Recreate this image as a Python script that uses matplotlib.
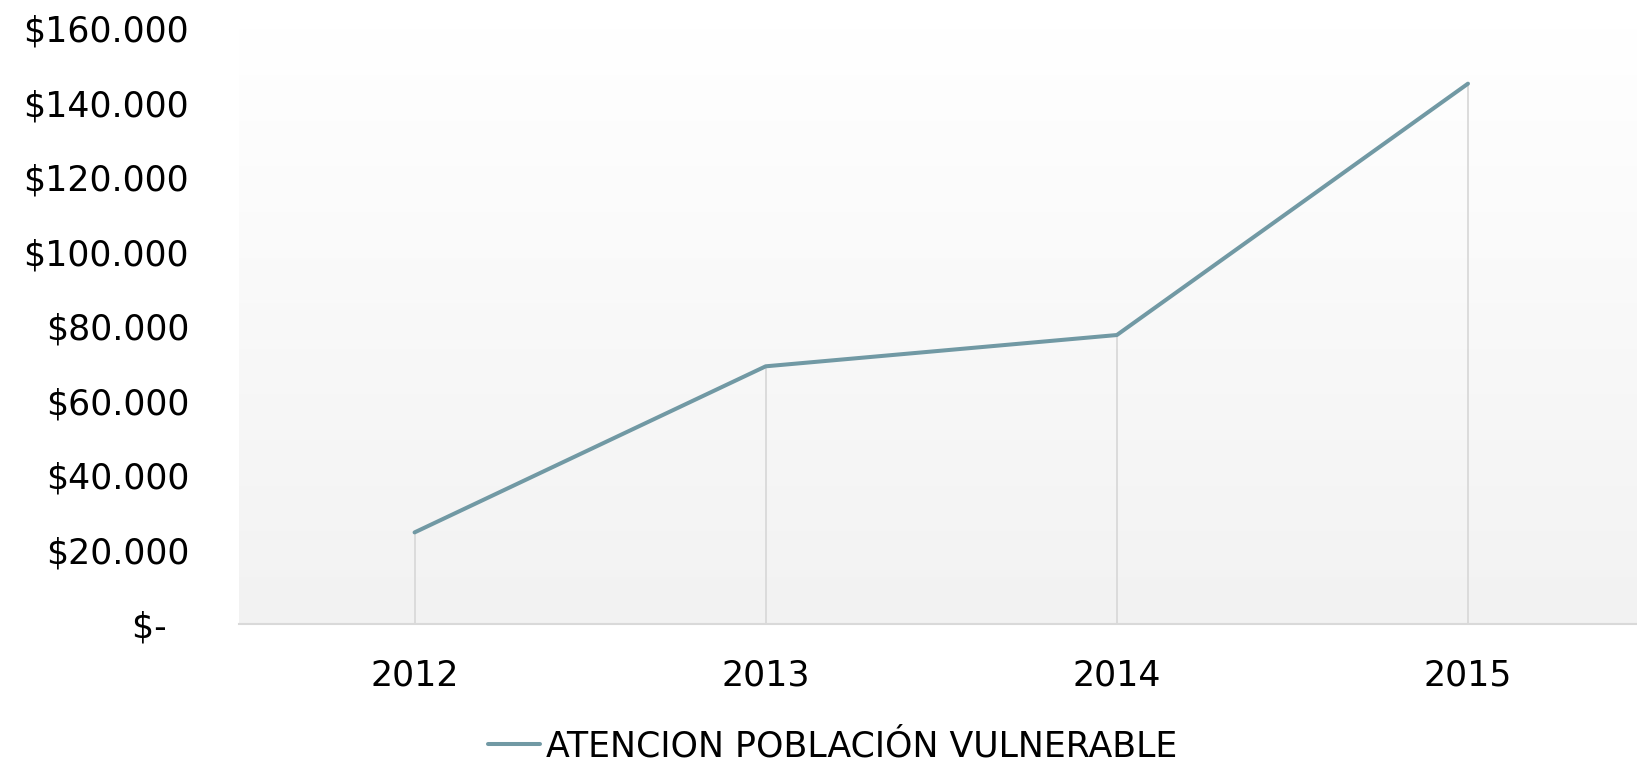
import numpy as np
import matplotlib
matplotlib.use('Agg')
import matplotlib.pyplot as plt
from matplotlib.ticker import FuncFormatter

years = ['2012', '2013', '2014', '2015']
valores = [24600, 69200, 77600, 145100]
serie = 'ATENCION POBLACIÓN VULNERABLE'
yticks = [0, 20000, 40000, 60000, 80000, 100000, 120000, 140000, 160000]

plt.rcParams['font.family'] = ['DejaVu Sans']

def moneda(v, pos):
    if v == 0:
        return '$-  '
    return '$' + format(int(v), ',').replace(',', '.')

fig = plt.figure(figsize=(16.37, 7.61), dpi=100)
ax = fig.add_axes([0.146, 0.180, 0.858, 0.783])

x = np.arange(len(years))

# fondo degradado del area de trazado
grad = np.linspace(0, 1, 256).reshape(-1, 1)
cmap = matplotlib.colors.LinearSegmentedColormap.from_list('g', ['#f2f2f2', '#ffffff'])
ax.imshow(grad, extent=[0, 1, 0, 1], transform=ax.transAxes, origin='lower',
          cmap=cmap, aspect='auto', zorder=0)

ax.vlines(x, 0, valores, color='#d9d9d9', lw=1.3, zorder=1)
ax.plot(x, valores, color='#7199a4', lw=2.9, solid_capstyle='round', label=serie, zorder=3)

ax.set_xlim(-0.5, 3.5)
ax.set_ylim(0, 160000)
ax.set_xticks(x)
ax.set_xticklabels(years)
ax.set_yticks(yticks)
ax.yaxis.set_major_formatter(FuncFormatter(moneda))
ax.tick_params(axis='both', length=0, labelsize=25, colors='black')
ax.tick_params(axis='x', pad=25)
ax.tick_params(axis='y', pad=36)

for s in ['top', 'right', 'left']:
    ax.spines[s].set_visible(False)
ax.spines['bottom'].set_color('#d9d9d9')
ax.spines['bottom'].set_linewidth(1.5)

fig.legend(loc='center', bbox_to_anchor=(0.5086, 0.019), frameon=False,
           fontsize=25, handlelength=1.5, handletextpad=0.15)

fig.savefig('out.png', dpi=100)
